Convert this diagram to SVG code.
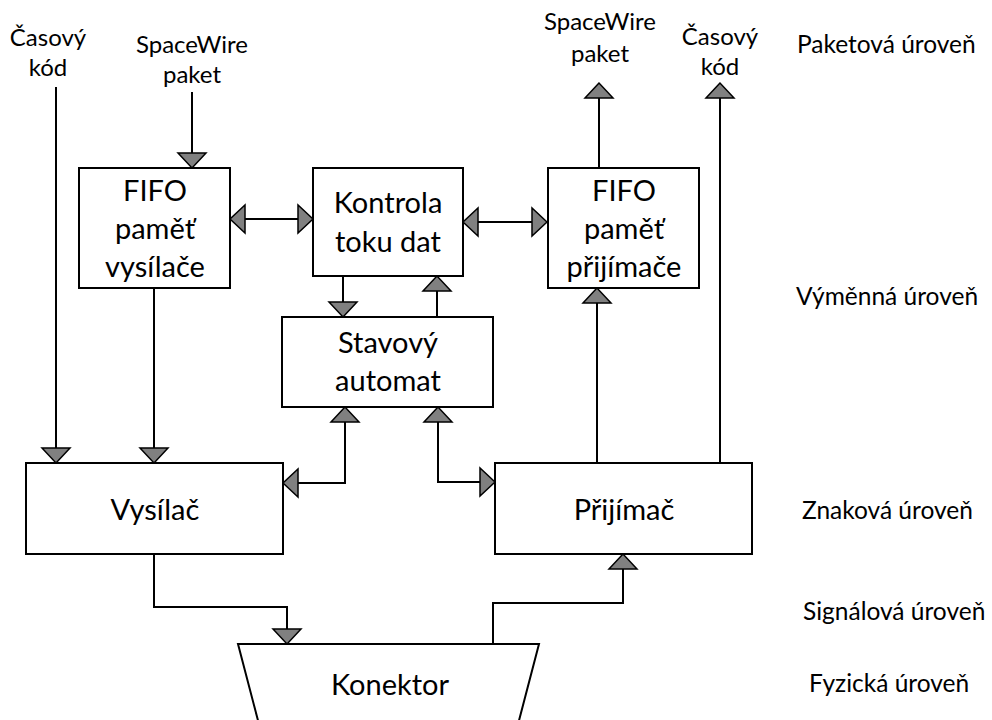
<svg xmlns="http://www.w3.org/2000/svg" width="992" height="720" viewBox="0 0 992 720">
<defs>
<style>
.box{fill:#fff;stroke:#000;stroke-width:2}
.ln{fill:none;stroke:#000;stroke-width:2}
.arr{marker-end:url(#ah)}
.dbl{marker-start:url(#ah);marker-end:url(#ah)}
.bt{font-family:Lato,"Liberation Sans",sans-serif;font-size:29px;fill:#000;text-anchor:middle}
.lt{font-family:Lato,"Liberation Sans",sans-serif;font-size:24px;fill:#000;text-anchor:middle}
.rt{font-family:Lato,"Liberation Sans",sans-serif;font-size:24.5px;fill:#000}
</style>
<marker id="ah" markerUnits="userSpaceOnUse" markerWidth="20" markerHeight="32" viewBox="-17 -16 20 32" refX="0" refY="0" orient="auto-start-reverse">
<path d="M0,0 L-15,-14 L-15,14 Z" fill="#808080" stroke="#000" stroke-width="1.5" stroke-linejoin="miter"/>
</marker>
</defs>
<rect width="992" height="720" fill="#fff"/>

<g id="connectors">
<path class="ln arr" d="M56,87 V463"/>
<path class="ln arr" d="M192,92 V168"/>
<path class="ln arr" d="M154,288 V463"/>
<path class="ln dbl" d="M230,219 H313"/>
<path class="ln dbl" d="M463,222 H547"/>
<path class="ln arr" d="M343,276 V317"/>
<path class="ln arr" d="M437,317 V276"/>
<path class="ln arr" d="M599,168 V83"/>
<path class="ln arr" d="M720,463 V83"/>
<path class="ln arr" d="M597,463 V288"/>
<path class="ln dbl" d="M283,483 H345 V407"/>
<path class="ln dbl" d="M438,407 V482 H495"/>
<path class="ln arr" d="M154,554 V607 H287 V644"/>
<path class="ln arr" d="M493,644 V603 H623 V554"/>
</g>

<g id="fifo-tx">
<rect class="box" x="79" y="168" width="151" height="120"/>
<text class="bt" x="155" y="201">FIFO</text>
<text class="bt" x="155" y="239">paměť</text>
<text class="bt" x="155" y="277">vysílače</text>
</g>
<g id="kontrola">
<rect class="box" x="313" y="168" width="150" height="108"/>
<text class="bt" x="388" y="213">Kontrola</text>
<text class="bt" x="388" y="252">toku dat</text>
</g>
<g id="fifo-rx">
<rect class="box" x="548" y="168" width="151" height="120"/>
<text class="bt" x="624" y="201">FIFO</text>
<text class="bt" x="624" y="239">paměť</text>
<text class="bt" x="624" y="277">přijímače</text>
</g>
<g id="stavovy">
<rect class="box" x="282" y="317" width="211" height="90"/>
<text class="bt" x="388" y="353">Stavový</text>
<text class="bt" x="388" y="391">automat</text>
</g>
<g id="vysilac">
<rect class="box" x="26" y="463" width="257" height="91"/>
<text class="bt" x="155" y="520">Vysílač</text>
</g>
<g id="prijimac">
<rect class="box" x="495" y="463" width="257" height="91"/>
<text class="bt" x="624" y="520">Přijímač</text>
</g>
<g id="konektor">
<path class="box" d="M238,644 H539 L516,732 H261 Z"/>
<text class="bt" x="390" y="695">Konektor</text>
</g>

<g id="io-labels">
<text class="lt" x="48" y="46">Časový</text>
<text class="lt" x="48" y="76">kód</text>
<text class="lt" x="192" y="53">SpaceWire</text>
<text class="lt" x="192" y="83">paket</text>
<text class="lt" x="600" y="30">SpaceWire</text>
<text class="lt" x="600" y="62">paket</text>
<text class="lt" x="720" y="45">Časový</text>
<text class="lt" x="720" y="75">kód</text>
</g>
<g id="level-labels">
<text class="rt" x="797" y="53">Paketová úroveň</text>
<text class="rt" x="796" y="305">Výměnná úroveň</text>
<text class="rt" x="802" y="519">Znaková úroveň</text>
<text class="rt" x="803" y="620">Signálová úroveň</text>
<text class="rt" x="809" y="692">Fyzická úroveň</text>
</g>
</svg>
